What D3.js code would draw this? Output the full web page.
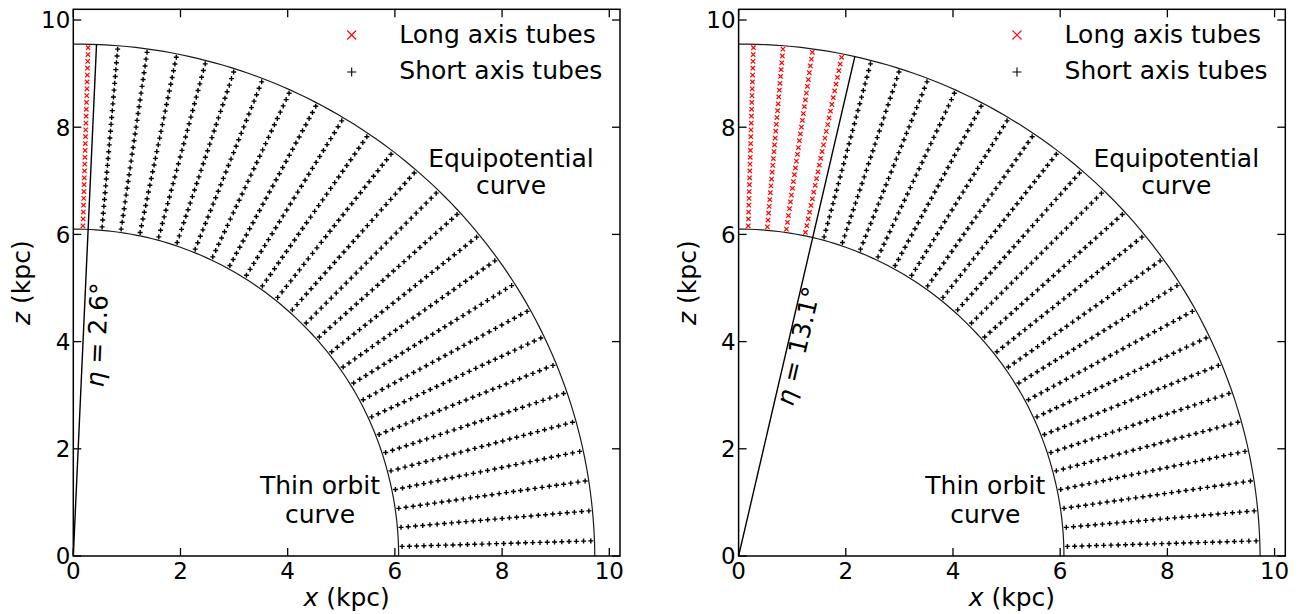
<!DOCTYPE html>
<html>
<head>
<meta charset="utf-8">
<script src="https://cdn.jsdelivr.net/npm/d3@7"></script>
<style>
  html, body { margin: 0; padding: 0; background: #fff; }
  svg { display: block; font-family: "DejaVu Sans", sans-serif; }
</style>
</head>
<body>
<svg id="chart" width="1305" height="614"></svg>
<script>
// ---------------- data ----------------
const axisTicks = [0, 2, 4, 6, 8, 10];
const axisDomain = [0, 10.2];
// angles (deg, measured from the x axis) of the radial sampling lines
const lineAnglesDeg = [1.67, 5.00, 8.33, 11.67, 15.00, 18.33, 21.67, 25.00, 28.33,
  31.67, 35.00, 38.33, 41.67, 45.00, 48.33, 51.67, 55.00, 58.33, 61.67, 65.00,
  68.33, 71.67, 75.00, 78.33, 81.67, 85.00, 88.33];
const pointsPerLine = 27;
// bounding curves, radius (kpc) sampled at angle (deg from x axis)
const curveAnglesDeg = [0, 15, 30, 45, 60, 75, 90];
const thinOrbitR = [6.07, 6.07, 6.08, 6.08, 6.09, 6.10, 6.10];
const equipotentialR = [9.73, 9.71, 9.68, 9.64, 9.60, 9.57, 9.55];
// per panel: eta angle (deg from z axis)
const etaDeg = [2.6, 13.1];
const etaLabels = ["2.6°", "13.1°"];
const legendLabels = ["Long axis tubes", "Short axis tubes"];

// ---------------- layout ----------------
const svg = d3.select("#chart");
const panelLeft = [73.3, 738.6];
const plotSize = 546.7;
const plotTop = 9.3, plotBottom = 556;
const rad = Math.PI / 180;

const rInterp = (arr) => d3.scaleLinear().domain(curveAnglesDeg).range(arr);
const rIn = rInterp(thinOrbitR), rOut = rInterp(equipotentialR);

panelLeft.forEach((L, p) => {
  const x = d3.scaleLinear().domain(axisDomain).range([L, L + plotSize]);
  const y = d3.scaleLinear().domain(axisDomain).range([plotBottom, plotTop]);
  const g = svg.append("g");
  const eta = etaDeg[p];

  // curves
  const dense = d3.range(0, 90.001, 1);
  const line = d3.line().x(d => x(d[0])).y(d => y(d[1]));
  [rIn, rOut].forEach(rf => {
    const pts = dense.map(a => [rf(a) * Math.cos(a * rad), rf(a) * Math.sin(a * rad)]);
    g.append("path").attr("d", line(pts)).attr("fill", "none")
      .attr("stroke", "#1a1a1a").attr("stroke-width", 1.2);
  });

  // eta line
  const ea = 90 - eta;
  g.append("line")
    .attr("x1", x(0)).attr("y1", y(0))
    .attr("x2", x(rOut(ea) * Math.cos(ea * rad))).attr("y2", y(rOut(ea) * Math.sin(ea * rad)))
    .attr("stroke", "#000").attr("stroke-width", 1.4);

  // points
  lineAnglesDeg.forEach(a => {
    const r0 = rIn(a), r1 = rOut(a);
    const isLong = (90 - a) < eta;
    for (let i = 0; i < pointsPerLine; i++) {
      const r = r0 + (i + 0.5) / pointsPerLine * (r1 - r0);
      const px = x(r * Math.cos(a * rad)), py = y(r * Math.sin(a * rad));
      if (isLong) {
        const h = 2.2;
        g.append("path").attr("d", `M${px - h},${py - h}L${px + h},${py + h}M${px - h},${py + h}L${px + h},${py - h}`)
          .attr("stroke", "#ff0000").attr("stroke-width", 1.2);
      } else {
        const h = 2.5;
        g.append("path").attr("d", `M${px - h},${py}L${px + h},${py}M${px},${py - h}L${px},${py + h}`)
          .attr("stroke", "#000").attr("stroke-width", 1.4);
      }
    }
  });

  // frame
  g.append("rect").attr("x", L).attr("y", plotTop).attr("width", plotSize)
    .attr("height", plotBottom - plotTop).attr("fill", "none")
    .attr("stroke", "#000").attr("stroke-width", 1.5);

  // ticks (inward, all four sides)
  const tl = 8;
  axisTicks.forEach(t => {
    g.append("line").attr("x1", x(t)).attr("x2", x(t)).attr("y1", plotBottom).attr("y2", plotBottom - tl).attr("stroke", "#000").attr("stroke-width", 1.3);
    g.append("line").attr("x1", x(t)).attr("x2", x(t)).attr("y1", plotTop).attr("y2", plotTop + tl).attr("stroke", "#000").attr("stroke-width", 1.3);
    g.append("line").attr("y1", y(t)).attr("y2", y(t)).attr("x1", L).attr("x2", L + tl).attr("stroke", "#000").attr("stroke-width", 1.3);
    g.append("line").attr("y1", y(t)).attr("y2", y(t)).attr("x1", L + plotSize).attr("x2", L + plotSize - tl).attr("stroke", "#000").attr("stroke-width", 1.3);
    g.append("text").attr("x", x(t)).attr("y", 579).attr("text-anchor", "middle")
      .attr("font-size", 23).attr("fill", "#000").text(t);
    g.append("text").attr("x", L - 3).attr("y", y(t) + 8.3).attr("text-anchor", "end")
      .attr("font-size", 23).attr("fill", "#000").text(t);
  });

  // axis labels
  const xl = g.append("text").attr("x", L + plotSize / 2).attr("y", 606)
    .attr("text-anchor", "middle").attr("font-size", 25).attr("fill", "#000");
  xl.append("tspan").attr("font-style", "italic").text("x");
  xl.append("tspan").text(" (kpc)");
  const yl = g.append("text").attr("transform", `translate(${L - 43},${(plotTop + plotBottom) / 2}) rotate(-90)`)
    .attr("text-anchor", "middle").attr("font-size", 25).attr("fill", "#000");
  yl.append("tspan").attr("font-style", "italic").text("z");
  yl.append("tspan").text(" (kpc)");

  // legend
  const lx = L + 278.4;
  const h = 4.5;
  g.append("path").attr("d", `M${lx - h},${35 - h}L${lx + h},${35 + h}M${lx - h},${35 + h}L${lx + h},${35 - h}`)
    .attr("stroke", "#ff0000").attr("stroke-width", 1.1);
  g.append("path").attr("d", `M${lx - h},${72}L${lx + h},${72}M${lx},${72 - h}L${lx},${72 + h}`)
    .attr("stroke", "#000").attr("stroke-width", 1.1);
  g.append("text").attr("x", L + 326).attr("y", 42.5).attr("font-size", 25).attr("fill", "#000").text(legendLabels[0]);
  g.append("text").attr("x", L + 326).attr("y", 79.3).attr("font-size", 25).attr("fill", "#000").text(legendLabels[1]);

  // annotations
  g.append("text").attr("x", L + 437.7).attr("y", 167).attr("text-anchor", "middle").attr("font-size", 25).attr("fill", "#000").text("Equipotential");
  g.append("text").attr("x", L + 437.7).attr("y", 194).attr("text-anchor", "middle").attr("font-size", 25).attr("fill", "#000").text("curve");
  g.append("text").attr("x", L + 246.7).attr("y", 494).attr("text-anchor", "middle").attr("font-size", 25).attr("fill", "#000").text("Thin orbit");
  g.append("text").attr("x", L + 246.7).attr("y", 523).attr("text-anchor", "middle").attr("font-size", 25).attr("fill", "#000").text("curve");

  // eta label
  const ec = p === 0 ? [97, 335] : [798, 346];
  const et = g.append("text").attr("transform", `translate(${ec[0]},${ec[1]}) rotate(${-(90 - eta)})`)
    .attr("text-anchor", "middle").attr("dominant-baseline", "central").attr("font-size", 25).attr("fill", "#000");
  et.append("tspan").attr("font-style", "italic").text("η");
  et.append("tspan").text(" = " + etaLabels[p]);
});
</script>
</body>
</html>
